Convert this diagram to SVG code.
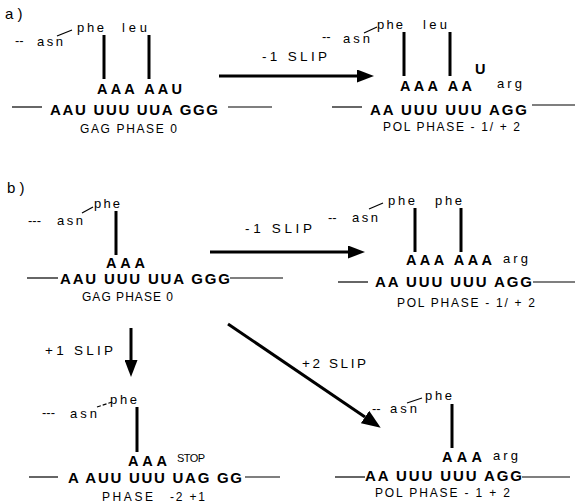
<svg xmlns="http://www.w3.org/2000/svg" width="575" height="503" viewBox="0 0 575 503">
<style>
text{font-family:"Liberation Sans",Arial,sans-serif;fill:#000}
.pl{font-size:15px}
.cod{font-size:14.5px;font-weight:bold}
.seq{font-size:15px;font-weight:bold}
.aa{font-size:13px}
.ph{font-size:12px}
.sl{font-size:13.5px}
.st{font-size:11px}
.bar{stroke:#000;stroke-width:3}
.thin{stroke:#000;stroke-width:1.2;fill:none}
.arr{stroke:#000;stroke-width:3;fill:none}
</style>
<defs>
<marker id="ah" markerUnits="userSpaceOnUse" markerWidth="17" markerHeight="13" refX="0" refY="6.5" orient="auto">
<path d="M0,0 L17,6.5 L0,13 z" fill="#000"/>
</marker>
<marker id="ah2" markerUnits="userSpaceOnUse" markerWidth="19" markerHeight="15" refX="0" refY="7.5" orient="auto">
<path d="M0,0 L19,7.5 L0,15 z" fill="#000"/>
</marker>
</defs>

<g id="labels">
<text class="pl" x="5" y="19">a )</text>
<text class="pl" x="7" y="193">b )</text>
</g>

<g id="a-left">
<text class="aa"><tspan x="15" y="45">--</tspan><tspan x="37" y="46" textLength="26">asn</tspan></text>
<line class="thin" x1="57" y1="36" x2="72" y2="30"/>
<text class="aa" x="77" y="32" textLength="27">phe</text>
<text class="aa" x="122" y="32" textLength="25">leu</text>
<line class="bar" x1="104" y1="35" x2="104" y2="79"/>
<line class="bar" x1="149" y1="35" x2="149" y2="79"/>
<text class="cod" x="97" y="94" textLength="85">AAA  AAU</text>
<line class="thin" x1="12" y1="107" x2="42" y2="107"/>
<text class="seq" x="50" y="115" textLength="168">AAU UUU UUA GGG</text>
<line class="thin" x1="228" y1="107" x2="272" y2="107"/>
<text class="ph" x="80" y="133" textLength="97">GAG PHASE 0</text>
</g>

<g id="a-right">
<text class="aa"><tspan x="322" y="41">--</tspan><tspan x="343" y="43" textLength="27">asn</tspan></text>
<line class="thin" x1="364" y1="33" x2="377" y2="27"/>
<text class="aa" x="377" y="29" textLength="26">phe</text>
<text class="aa" x="423" y="29" textLength="24">leu</text>
<line class="bar" x1="404" y1="32" x2="404" y2="76"/>
<line class="bar" x1="450" y1="32" x2="450" y2="76"/>
<text class="cod" x="400" y="91" textLength="72">AAA  AA</text>
<text class="cod" x="475" y="74">U</text>
<text class="aa" x="497" y="88" textLength="25">arg</text>
<line class="thin" x1="332" y1="107" x2="362" y2="107"/>
<text class="seq" x="370" y="115" textLength="157">AA UUU UUU AGG</text>
<line class="thin" x1="532" y1="105" x2="575" y2="105"/>
<text class="ph" x="383" y="131" textLength="137">POL PHASE - 1/ + 2</text>
</g>

<g id="b-origin">
<text class="aa"><tspan x="28" y="225">---</tspan><tspan x="57" y="225" textLength="26">asn</tspan></text>
<line class="thin" x1="82" y1="213" x2="93" y2="207"/>
<text class="aa" x="94" y="208" textLength="26">phe</text>
<line class="bar" x1="116" y1="211" x2="116" y2="255"/>
<text class="cod" x="106" y="268" textLength="39">AAA</text>
<line class="thin" x1="27" y1="278" x2="58" y2="278"/>
<text class="seq" x="60" y="284" textLength="170">AAU UUU UUA GGG</text>
<line class="thin" x1="230" y1="278" x2="283" y2="278"/>
<text class="ph" x="82" y="301" textLength="91">GAG PHASE 0</text>
</g>

<g id="b-minus1">
<text class="aa"><tspan x="328" y="222">--</tspan><tspan x="352" y="222" textLength="26">asn</tspan></text>
<line class="thin" x1="369" y1="209" x2="383" y2="203"/>
<text class="aa" x="388" y="205" textLength="27">phe</text>
<text class="aa" x="435" y="205" textLength="27">phe</text>
<line class="bar" x1="415" y1="208" x2="415" y2="252"/>
<line class="bar" x1="461" y1="208" x2="461" y2="252"/>
<text class="cod" x="406" y="265" textLength="86">AAA  AAA</text>
<text class="aa" x="503" y="263" textLength="25">arg</text>
<line class="thin" x1="338" y1="282" x2="368" y2="282"/>
<text class="seq" x="375" y="287" textLength="157">AA UUU UUU AGG</text>
<line class="thin" x1="533" y1="282" x2="575" y2="282"/>
<text class="ph" x="397" y="307" textLength="138">POL PHASE - 1/ + 2</text>
</g>

<g id="b-plus1">
<text class="aa"><tspan x="42" y="417">---</tspan><tspan x="70" y="418" textLength="27">asn</tspan></text>
<line class="thin" x1="97" y1="407" x2="112" y2="402" stroke-dasharray="4,2"/>
<text class="aa" x="110" y="404" textLength="27">phe</text>
<line class="bar" x1="137" y1="407" x2="137" y2="452"/>
<text class="cod" x="128" y="466" textLength="39">AAA</text>
<text class="st" x="177" y="462" textLength="28">STOP</text>
<line class="thin" x1="29" y1="477" x2="58" y2="477"/>
<text class="seq" x="68" y="483" textLength="174">A AUU UUU UAG GG</text>
<line class="thin" x1="245" y1="477" x2="280" y2="477"/>
<text class="ph"><tspan x="102" y="501" textLength="51">PHASE</tspan><tspan x="170" y="501" textLength="35">-2 +1</tspan></text>
</g>

<g id="b-plus2">
<text class="aa"><tspan x="372" y="413">--</tspan><tspan x="390" y="413" textLength="27">asn</tspan></text>
<line class="thin" x1="407" y1="403" x2="422" y2="398"/>
<text class="aa" x="425" y="400" textLength="27">phe</text>
<line class="bar" x1="452" y1="404" x2="452" y2="448"/>
<text class="cod" x="442" y="462" textLength="40">AAA</text>
<text class="aa" x="493" y="460" textLength="25">arg</text>
<line class="thin" x1="335" y1="477" x2="365" y2="477"/>
<text class="seq" x="365" y="481" textLength="157">AA UUU UUU AGG</text>
<line class="thin" x1="522" y1="477" x2="570" y2="477"/>
<text class="ph" x="375" y="497" textLength="135">POL PHASE - 1  + 2</text>
</g>

<g id="connectors">
<line class="arr" x1="219" y1="76" x2="357" y2="76" marker-end="url(#ah)"/>
<text class="sl" x="262" y="61" textLength="65">-1  SLIP</text>
<line class="arr" x1="210" y1="252" x2="348" y2="252" marker-end="url(#ah)"/>
<text class="sl" x="245" y="233" textLength="67">-1  SLIP</text>
<line class="arr" x1="131" y1="328" x2="131" y2="360" marker-end="url(#ah)"/>
<text class="sl" x="45" y="355" textLength="68">+1  SLIP</text>
<line class="arr" x1="228" y1="324" x2="365" y2="417" stroke-width="4" marker-end="url(#ah2)"/>
<text class="sl" x="302" y="368" textLength="64">+2  SLIP</text>
</g>
</svg>
